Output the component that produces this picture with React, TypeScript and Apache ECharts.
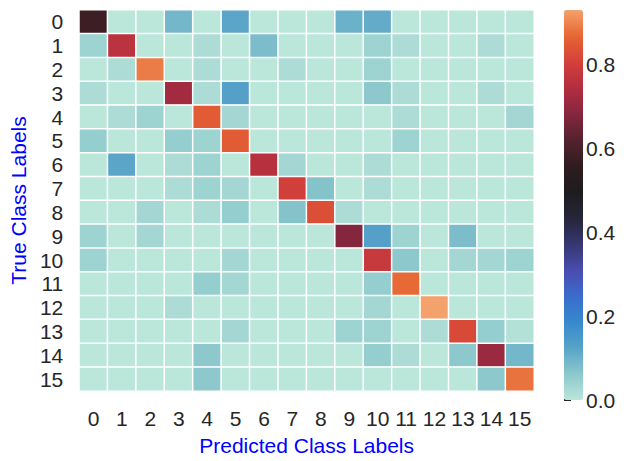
import React, { useEffect, useRef } from "react";
import * as echarts from "echarts";

const classes = ["0","1","2","3","4","5","6","7","8","9","10","11","12","13","14","15"];
// rows: true class, columns: predicted class
const row0 = [0.58,0,0,0.09,0,0.12,0,0,0,0.10,0.11,0,0,0,0,0];
const row1 = [0.04,0.76,0,0,0.02,0,0.08,0,0,0,0.04,0.02,0,0,0.02,0];
const row2 = [0,0.02,0.89,0,0.02,0,0,0.02,0,0,0.04,0,0,0,0,0];
const row3 = [0.02,0,0,0.72,0.02,0.13,0,0,0,0,0.06,0.02,0,0,0.02,0];
const row4 = [0,0.02,0.04,0,0.85,0.03,0,0,0,0,0,0.02,0,0,0,0.03];
const row5 = [0.05,0,0,0.05,0.04,0.85,0,0,0,0,0,0.04,0,0,0,0];
const row6 = [0,0.12,0,0.02,0.04,0,0.75,0.03,0,0,0.02,0,0,0,0,0];
const row7 = [0,0,0,0.02,0.04,0.03,0,0.80,0.07,0,0.02,0,0,0,0,0];
const row8 = [0,0,0.03,0,0.02,0.05,0,0.07,0.83,0.02,0,0,0,0,0,0];
const row9 = [0.04,0,0.03,0,0,0,0,0,0,0.68,0.13,0.04,0,0.08,0,0];
const row10 = [0.04,0,0,0,0,0.03,0,0,0,0,0.78,0.06,0,0.03,0.03,0.04];
const row11 = [0,0,0,0,0.05,0.03,0,0,0,0,0.05,0.87,0,0,0,0];
const row12 = [0,0,0,0.02,0,0,0,0,0,0,0.03,0,0.93,0,0,0];
const row13 = [0,0,0,0,0,0.03,0,0,0,0.04,0.04,0,0.02,0.82,0.05,0.01];
const row14 = [0,0,0,0,0.06,0,0,0,0,0,0.05,0.02,0,0.06,0.71,0.09];
const row15 = [0,0,0,0,0.06,0,0,0,0,0,0,0,0,0,0.06,0.88];
const matrix = [row0,row1,row2,row3,row4,row5,row6,row7,row8,row9,row10,row11,row12,row13,row14,row15];

const colorbarTicks = [0, 0.2, 0.4, 0.6, 0.8];
const vMin = 0;
const vMax = 0.929;
const palette = [
  "#bbe6da","#8cc8cc","#57a3c8","#3789cc","#3a6ccc","#4a4cae","#363670","#26253a",
  "#1e1c1e","#2f1c20","#54222e","#86263f","#b22e3f","#d4403a","#e66632","#f4a26c",
];

const FONT = "Liberation Sans, Arial, sans-serif";
const TXT = "#262626";
const FS = 21;

export default function App() {
  const ref = useRef<HTMLDivElement>(null);
  useEffect(() => {
    if (!ref.current) return;
    const chart = echarts.init(ref.current, null, { renderer: "svg" });
    const data: [number, number, number][] = [];
    matrix.forEach((row, r) => row.forEach((v, c) => data.push([c, r, v])));
    chart.setOption({
      animation: false,
      backgroundColor: "#ffffff",
      textStyle: { fontFamily: FONT },
      grid: [
        { left: 76, top: 10, width: 458, height: 390 },
        { left: 564, top: 10, width: 19, height: 390 },
      ],
      xAxis: [
        {
          type: "category",
          gridIndex: 0,
          data: classes,
          axisLine: { show: false },
          axisTick: { show: false },
          splitLine: { show: false },
          axisLabel: { color: TXT, fontSize: FS, margin: 17, fontFamily: FONT, interval: 0 },
          name: "Predicted Class Labels",
          nameLocation: "middle",
          nameGap: 44,
          nameTextStyle: { color: "#0000ff", fontSize: FS, fontFamily: FONT },
        },
        {
          type: "value",
          gridIndex: 1,
          show: false,
          min: 0,
          max: 1,
        },
      ],
      yAxis: [
        {
          type: "category",
          gridIndex: 0,
          data: classes,
          inverse: true,
          axisLine: { show: false },
          axisTick: { show: false },
          splitLine: { show: false },
          axisLabel: { color: TXT, fontSize: FS, margin: 16, fontFamily: FONT, interval: 0 },
          name: "True Class Labels",
          nameLocation: "middle",
          nameGap: 46,
          nameTextStyle: { color: "#0000ff", fontSize: FS, fontFamily: FONT },
        },
        {
          type: "value",
          gridIndex: 1,
          position: "right",
          min: vMin,
          max: vMax,
          interval: 0.2,
          axisLine: { show: false },
          splitLine: { show: false },
          axisTick: { show: true, length: 7, lineStyle: { color: TXT, width: 2 } },
          axisLabel: {
            color: TXT,
            fontSize: FS,
            margin: 3,
            fontFamily: FONT,
            showMaxLabel: false,
            formatter: (v: number) => (colorbarTicks.some((t) => Math.abs(t - v) < 1e-6) ? v.toFixed(1) : ""),
          },
        },
      ],
      visualMap: {
        type: "continuous",
        min: vMin,
        max: vMax,
        seriesIndex: 0,
        calculable: false,
        orient: "vertical",
        left: 564,
        top: 10,
        itemWidth: 19,
        itemHeight: 390,
        padding: 0,
        text: null,
        inRange: { color: palette },
        hoverLink: false,
      },
      series: [
        {
          type: "heatmap",
          xAxisIndex: 0,
          yAxisIndex: 0,
          data,
          itemStyle: { borderColor: "#ffffff", borderWidth: 1.5 },
          emphasis: { disabled: true },
        },
        {
          type: "scatter",
          xAxisIndex: 1,
          yAxisIndex: 1,
          data: [],
          silent: true,
        },
      ],
    });
    return () => chart.dispose();
  }, []);
  return <div ref={ref} style={{ width: 633, height: 461, position: "absolute", left: 0, top: 0 }} />;
}
